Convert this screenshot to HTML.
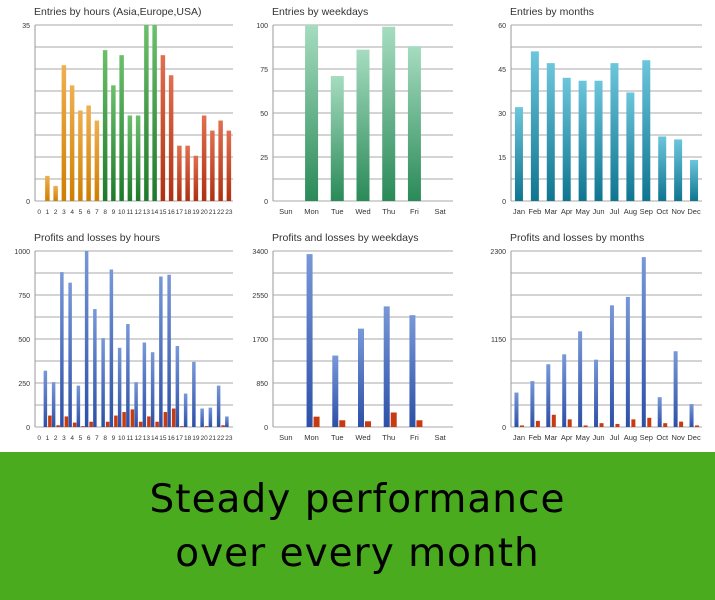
<!DOCTYPE html>
<html><head><meta charset="utf-8"><style>
body{margin:0;width:715px;height:600px;background:#fff;overflow:hidden;font-family:"Liberation Sans",sans-serif}
#ban{position:absolute;left:0;top:452px;width:715px;height:148px;background:#4aab1f;text-align:center;color:#000;font-family:"DejaVu Sans",sans-serif;font-size:39px;line-height:54px;padding-top:21px;box-sizing:border-box;letter-spacing:1px}
</style></head><body>
<svg id="s" width="715" height="452" style="position:absolute;left:0;top:0"></svg>
<div id="ban">Steady performance<br>over every month</div>
<script>
var S='<defs>'+
'<linearGradient id="gw" x1="0" y1="0" x2="0" y2="1"><stop offset="0" stop-color="#a6dcc0"/><stop offset="1" stop-color="#2a8a58"/></linearGradient>'+
'<linearGradient id="gm" x1="0" y1="0" x2="0" y2="1"><stop offset="0" stop-color="#6cc6dc"/><stop offset="1" stop-color="#0f7590"/></linearGradient>'+
'<linearGradient id="go" x1="0" y1="0" x2="0" y2="1"><stop offset="0" stop-color="#eeb050"/><stop offset="1" stop-color="#cf7f00"/></linearGradient>'+
'<linearGradient id="gg" x1="0" y1="0" x2="0" y2="1"><stop offset="0" stop-color="#6cc06c"/><stop offset="1" stop-color="#1e7a2a"/></linearGradient>'+
'<linearGradient id="gr" x1="0" y1="0" x2="0" y2="1"><stop offset="0" stop-color="#e07050"/><stop offset="1" stop-color="#b03010"/></linearGradient>'+
'<linearGradient id="gb" x1="0" y1="0" x2="0" y2="1"><stop offset="0" stop-color="#7898d8"/><stop offset="1" stop-color="#2c50a8"/></linearGradient>'+
'</defs>';
function chart(x0,x1,top,bot,title,max,ticks,labels,series,bw,fs){
  S+='<text x="'+(x0-1)+'" y="'+(top-10)+'" font-size="10.5" fill="#333">'+title+'</text>';
  for(var i=0;i<=8;i++){var y=top+(bot-top)*i/8;S+='<line x1="'+x0+'" x2="'+x1+'" y1="'+y+'" y2="'+y+'" stroke="#aaa" stroke-width="1"/>';}
  S+='<line x1="'+x0+'" x2="'+x0+'" y1="'+top+'" y2="'+bot+'" stroke="#999"/>';
  ticks.forEach(function(t,i){var y=bot-(bot-top)*t/max;S+='<text x="'+(x0-5)+'" y="'+(y+3)+'" font-size="7" text-anchor="end" fill="#333">'+t+'</text>';});
  var n=labels.length,w=(x1-x0)/n;
  labels.forEach(function(l,i){S+='<text x="'+(x0+w*(i+0.5))+'" y="'+(bot+13)+'" font-size="'+(fs||7.5)+'" text-anchor="middle" fill="#333">'+l+'</text>';});
  series.forEach(function(se){se.v.forEach(function(v,i){if(!v)return;var h=(bot-top)*v/max;var cx=x0+w*(i+0.5)+se.off;
    var f=typeof se.c=='function'?se.c(i):se.c;
    S+='<rect x="'+(cx-bw/2)+'" y="'+(bot-h)+'" width="'+bw+'" height="'+h+'" fill="'+f+'"/>';});});
}
var hrs=[];for(var i=0;i<24;i++)hrs.push(i);
var wd=['Sun','Mon','Tue','Wed','Thu','Fri','Sat'];
var mo=['Jan','Feb','Mar','Apr','May','Jun','Jul','Aug','Sep','Oct','Nov','Dec'];
chart(35,233,25,201,'Entries by hours (Asia,Europe,USA)',35,[0,35],hrs,[{v:[0,5,3,27,23,18,19,16,30,23,29,17,17,35,35,29,25,11,11,9,17,14,16,14],off:0,c:function(i){return i<8?'url(#go)':i<15?'url(#gg)':'url(#gr)'}}],4.5,6.5);
chart(273,453,25,201,'Entries by weekdays',100,[0,25,50,75,100],wd,[{v:[0,100,71,86,99,88,0],off:0,c:'url(#gw)'}],13);
chart(511,702,25,201,'Entries by months',60,[0,15,30,45,60],mo,[{v:[32,51,47,42,41,41,47,37,48,22,21,14],off:0,c:'url(#gm)'}],8);
chart(35,233,251,427,'Profits and losses by hours',1000,[0,250,500,750,1000],hrs,[
 {v:[0,320,255,880,820,235,1000,670,505,895,450,585,255,480,425,855,865,460,190,370,105,110,235,60],off:-2,c:'url(#gb)'},
 {v:[0,65,10,60,25,5,30,0,30,65,85,100,30,60,30,85,105,5,0,0,5,0,10,0],off:2.5,c:'#c83a10'}],3.5,6.5);
chart(273,453,251,427,'Profits and losses by weekdays',3400,[0,850,1700,2550,3400],wd,[
 {v:[0,3340,1380,1900,2330,2160,0],off:-2,c:'url(#gb)'},
 {v:[0,200,130,110,280,130,0],off:5,c:'#c83a10'}],6);
chart(511,702,251,427,'Profits and losses by months',2300,[0,1150,2300],mo,[
 {v:[450,600,820,950,1250,880,1590,1700,2220,390,990,300],off:-2.5,c:'url(#gb)'},
 {v:[20,80,160,100,20,50,40,100,120,50,70,20],off:3,c:'#c83a10'}],4);
document.getElementById('s').innerHTML=S;
</script>
</body></html>
